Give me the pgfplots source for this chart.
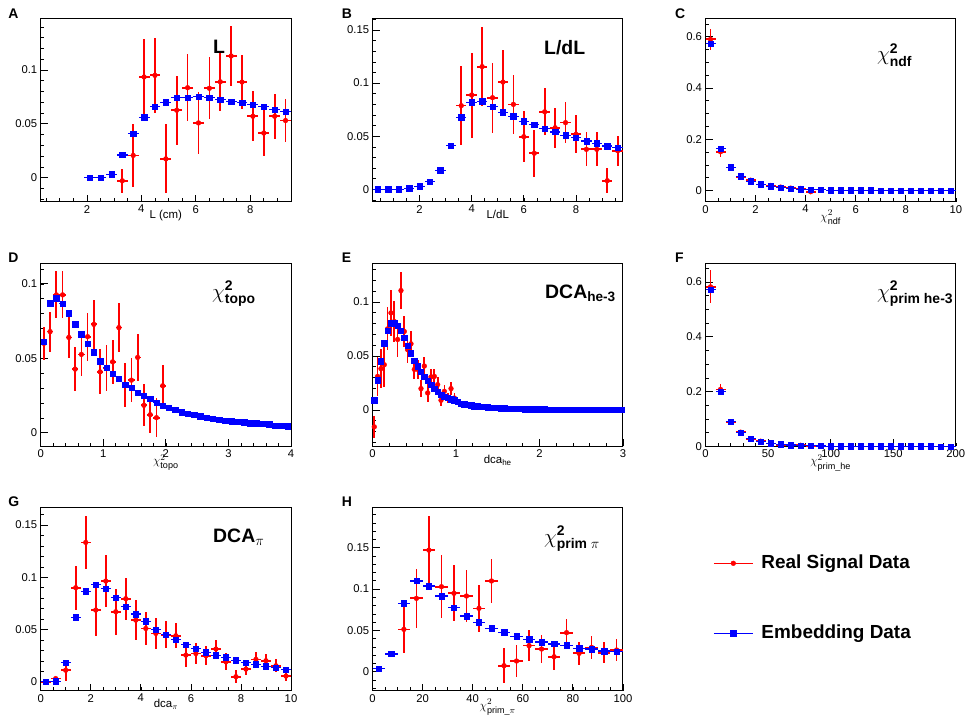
\documentclass[border=0pt]{standalone}
\usepackage{amsmath}
\usepackage{fontspec}
\setmainfont{Liberation Sans}
\usepackage{pgfplots}
\pgfplotsset{compat=1.18}

\pgfplotsset{
  rootaxis/.style={
    scale only axis, width=250.3bp, height=183.4bp,
    axis line style={line width=0.9bp},
    tick pos=left, tick align=inside,
    major tick length=7bp, minor tick length=3.5bp,
    major tick style={line width=0.7bp, black},
    minor tick style={line width=0.6bp, black},
    tick label style={font=\fontsize{11.3}{13}\selectfont, /pgf/number format/assume math mode=true},
    yticklabel style={/pgf/number format/fixed, /pgf/number format/precision=3},
    xticklabel style={/pgf/number format/fixed},
    scaled y ticks=false, scaled x ticks=false,
    xlabel style={font=\fontsize{11.5}{13}\selectfont, at={(axis description cs:0.5,0)}, anchor=base, yshift=-17bp, inner sep=0pt},
    clip=false,
  },
  chilabel/.style={xlabel style={font=\fontsize{13}{15}\selectfont, yshift=-1.5bp}},
  realdata/.style={only marks, mark=*, mark size=2.4bp, color=red, line width=1.6bp, mark options={line width=0.4bp},
    error bars/.cd, x dir=both, x fixed=#1, y dir=both, y explicit, error mark=none,
    error bar style={line width=1.7bp, red}},
  embdata/.style={only marks, mark=square*, mark size=2.7bp, color=blue, line width=1.5bp, mark options={line width=0.4bp},
    error bars/.cd, x dir=both, x fixed=#1, error mark=none,
    error bar style={line width=1.1bp, blue}},
}

\begin{document}
\begin{tikzpicture}
\useasboundingbox (0,0) rectangle (965bp,-718bp);

% ---------------- A ----------------
\begin{axis}[rootaxis, at={(40.7bp,-201.7bp)}, anchor=south west,
  xmin=0.3, xmax=9.5, ymin=-0.0224, ymax=0.148,
  xtick={2,4,6,8}, minor xtick={0.5,1,...,9.5},
  ytick={0,0.05,0.1}, minor ytick={-0.02,-0.01,...,0.145},
  xlabel={L (cm)}]
\addplot[realdata=0.2] table[x=x, y=y, y error=ey] {
x y ey
3.3 -0.003 0.011
3.7 0.0206 0.029
4.1 0.0935 0.035
4.5 0.095 0.035
4.9 0.0174 0.032
5.3 0.0626 0.032
5.7 0.0835 0.031
6.1 0.0508 0.029
6.5 0.083 0.029
6.9 0.089 0.027
7.3 0.113 0.028
7.7 0.0888 0.025
8.1 0.057 0.023
8.5 0.0414 0.021
8.9 0.057 0.021
9.3 0.053 0.020
};
\addplot[embdata=0.2] table[x=x, y=y] {
x y
2.1 0
2.5 0
2.9 0.003
3.3 0.021
3.7 0.041
4.1 0.056
4.5 0.066
4.9 0.070
5.3 0.074
5.7 0.074
6.1 0.075
6.5 0.074
6.9 0.0726
7.3 0.0707
7.7 0.0695
8.1 0.0676
8.5 0.0657
8.9 0.0632
9.3 0.061
};
\end{axis}

% ---------------- B ----------------
\begin{axis}[rootaxis, at={(372.6bp,-201.7bp)}, anchor=south west,
  xmin=0.2, xmax=9.8, ymin=-0.0116, ymax=0.161,
  xtick={2,4,6,8}, minor xtick={0.5,1,...,9.5},
  ytick={0,0.05,0.1,0.15}, minor ytick={-0.01,0,...,0.16},
  xlabel={L/dL}]
\addplot[realdata=0.2] table[x=x, y=y, y error=ey] {
x y ey
3.6 0.0788 0.037
4.0 0.0888 0.040
4.4 0.1155 0.037
4.8 0.0863 0.033
5.2 0.101 0.030
5.6 0.080 0.028
6.0 0.0496 0.024
6.4 0.034 0.022
6.8 0.073 0.022
7.2 0.058 0.019
7.6 0.0628 0.019
8.0 0.0518 0.018
8.4 0.0377 0.016
8.8 0.0377 0.016
9.2 0.0082 0.012
9.6 0.0364 0.014
};
\addplot[embdata=0.2] table[x=x, y=y] {
x y
0.4 0
0.8 0
1.2 0
1.6 0.001
2.0 0.003
2.4 0.007
2.8 0.018
3.2 0.041
3.6 0.068
4.0 0.082
4.4 0.083
4.8 0.078
5.2 0.0725
5.6 0.069
6.0 0.064
6.4 0.061
6.8 0.057
7.2 0.054
7.6 0.051
8.0 0.0487
8.4 0.0455
8.8 0.0433
9.2 0.0408
9.6 0.0395
};
\end{axis}

% ---------------- C ----------------
\begin{axis}[rootaxis, chilabel, at={(705.5bp,-201.7bp)}, anchor=south west,
  xmin=0, xmax=10, ymin=-0.044, ymax=0.672,
  xtick={0,2,...,10}, minor xtick={0,0.5,...,10},
  ytick={0,0.2,0.4,0.6}, minor ytick={0,0.05,...,0.65},
  xlabel={$\chi^{2}_{\text{ndf}}$}]
\addplot[realdata=0.2] table[x=x, y=y, y error=ey] {
x y ey
0.2 0.59 0.042
0.6 0.151 0.020
1.0 0.090 0.013
1.4 0.053 0.010
1.8 0.040 0.008
2.2 0.023 0.006
2.6 0.0195 0.006
3.0 0.013 0.005
3.4 0.009 0.004
3.8 0.008 0.004
4.2 -0.005 0.004
};
\addplot[embdata=0.2] table[x=x, y=y] {
x y
0.2 0.574
0.6 0.164
1.0 0.090
1.4 0.056
1.8 0.0364
2.2 0.0247
2.6 0.017
3.0 0.0117
3.4 0.0078
3.8 0.005
4.2 0.004
4.6 0.003
5.0 0.001
5.4 0.0005
5.8 0.0003
6.2 0.0002
6.6 0.0002
7.0 0.0001
7.4 0.0001
7.8 0.0001
8.2 0
8.6 0
9.0 0
9.4 0
9.8 0
};
\end{axis}

% ---------------- D ----------------
\begin{axis}[rootaxis, chilabel, at={(40.7bp,-446.4bp)}, anchor=south west,
  xmin=0, xmax=4, ymin=-0.0092, ymax=0.114,
  xtick={0,1,2,3,4}, minor xtick={0,0.2,...,4},
  ytick={0,0.05,0.1}, minor ytick={0,0.01,...,0.11},
  xlabel={$\chi^{2}_{\text{topo}}$}]
\addplot[realdata=0.05] table[x=x, y=y, y error=ey] {
x y ey
0.05 0.060 0.011
0.15 0.0679 0.0135
0.25 0.0926 0.0157
0.35 0.0926 0.0157
0.45 0.064 0.014
0.55 0.0427 0.0146
0.65 0.0526 0.0148
0.75 0.0645 0.016
0.85 0.0728 0.0164
0.95 0.0409 0.015
1.05 0.0436 0.0154
1.15 0.0476 0.015
1.25 0.0706 0.0166
1.35 0.032 0.015
1.45 0.0353 0.015
1.55 0.0506 0.0157
1.65 0.0184 0.014
1.75 0.0121 0.0126
1.85 0.0101 0.013
1.95 0.0315 0.014
};
\addplot[embdata=0.05] table[x=x, y=y] {
x y
0.05 0.0611
0.15 0.087
0.25 0.0903
0.35 0.0865
0.45 0.0802
0.55 0.0730
0.65 0.0663
0.75 0.0596
0.85 0.0542
0.95 0.0480
1.05 0.0438
1.15 0.0398
1.25 0.0364
1.35 0.0324
1.45 0.0303
1.55 0.0270
1.65 0.0247
1.75 0.0229
1.85 0.0202
1.95 0.0182
2.05 0.0169
2.15 0.0155
2.25 0.0139
2.35 0.0128
2.45 0.0121
2.55 0.0110
2.65 0.0101
2.75 0.0094
2.85 0.0088
2.95 0.0081
3.05 0.0076
3.15 0.0074
3.25 0.0070
3.35 0.0065
3.45 0.0063
3.55 0.0061
3.65 0.0056
3.75 0.0049
3.85 0.0049
3.95 0.0043
};
\end{axis}

% ---------------- E ----------------
\begin{axis}[rootaxis, at={(372.6bp,-446.4bp)}, anchor=south west,
  xmin=0, xmax=3, ymin=-0.0338, ymax=0.136,
  xtick={0,1,2,3}, minor xtick={0,0.2,...,3},
  ytick={0,0.05,0.1}, minor ytick={-0.03,-0.02,...,0.135},
  xlabel={dca$_{\text{he}}$}]
\addplot[realdata=0.02] table[x=x, y=y, y error=ey] {
x y ey
0.02 -0.0157 0.010
0.06 0.031 0.018
0.10 0.0382 0.018
0.14 0.0418 0.021
0.18 0.075 0.020
0.22 0.0898 0.021
0.26 0.0818 0.019
0.30 0.0652 0.016
0.34 0.1105 0.017
0.38 0.0726 0.0145
0.42 0.0557 0.012
0.46 0.0612 0.012
0.50 0.0375 0.009
0.54 0.0375 0.009
0.58 0.0197 0.008
0.62 0.0406 0.0085
0.66 0.0157 0.0085
0.70 0.0305 0.007
0.74 0.0310 0.007
0.78 0.0234 0.007
0.82 0.0089 0.0055
0.86 0.0172 0.0055
0.90 0.0111 0.005
0.94 0.0197 0.006
0.98 0.0110 0.0045
};
\addplot[embdata=0.02] table[x=x, y=y] {
x y
0.02 0.0089
0.06 0.0274
0.10 0.0452
0.14 0.0618
0.18 0.0735
0.22 0.0803
0.26 0.0803
0.30 0.0782
0.34 0.0735
0.38 0.0668
0.42 0.0597
0.46 0.0526
0.50 0.0458
0.54 0.0403
0.58 0.0351
0.62 0.0305
0.66 0.0268
0.70 0.0234
0.74 0.0197
0.78 0.0166
0.82 0.0142
0.86 0.0120
0.90 0.0112
0.94 0.0098
0.98 0.0089
1.02 0.0074
1.06 0.0058
1.10 0.0052
1.14 0.0049
1.18 0.0043
1.22 0.0034
1.26 0.0034
1.30 0.0030
1.34 0.0027
1.38 0.0024
1.42 0.0022
1.46 0.0020
1.50 0.0018
1.54 0.0016
1.58 0.0014
1.62 0.0012
1.66 0.0011
1.70 0.0010
1.74 0.0009
1.78 0.0009
1.82 0.0008
1.86 0.0008
1.90 0.0007
1.94 0.0007
1.98 0.0006
2.02 0.0006
2.06 0.0005
2.10 0.0004
2.14 0.0004
2.18 0.0004
2.22 0.0003
2.26 0.0003
2.30 0.0003
2.34 0.0003
2.38 0.0002
2.42 0.0002
2.46 0.0002
2.50 0.0002
2.54 0.0002
2.58 0.0002
2.62 0.0001
2.66 0.0001
2.70 0.0001
2.74 0.0001
2.78 0.0001
2.82 0.0001
2.86 0.0001
2.90 0.0001
2.94 0.0001
2.98 0.0001
};
\end{axis}

% ---------------- F ----------------
\begin{axis}[rootaxis, chilabel, at={(705.5bp,-446.4bp)}, anchor=south west,
  xmin=0, xmax=200, ymin=0, ymax=0.669,
  xtick={0,50,...,200}, minor xtick={0,10,...,200},
  ytick={0,0.2,0.4,0.6}, minor ytick={0,0.05,...,0.65},
  xlabel={$\chi^{2}_{\text{prim\_he}}$}]
\addplot[realdata=4] table[x=x, y=y, y error=ey] {
x y ey
4 0.582 0.060
12 0.208 0.020
20 0.090 0.007
28 0.052 0.005
36 0.028 0.004
44 0.019 0.003
52 0.011 0.003
60 0.006 0.002
68 0.006 0.002
76 0.004 0.002
84 0.002 0.001
92 0.003 0.001
};
\addplot[embdata=4] table[x=x, y=y] {
x y
4 0.572
12 0.200
20 0.091
28 0.050
36 0.028
44 0.017
52 0.012
60 0.0085
68 0.005
76 0.0036
84 0.0024
92 0.0015
100 0.0010
108 0.0008
116 0.0005
124 0.0004
132 0.0003
140 0.0003
148 0.0002
156 0.0002
164 0.0001
172 0.0001
180 0.0001
188 0
196 0
};
\end{axis}

% ---------------- G ----------------
\begin{axis}[rootaxis, at={(40.7bp,-690.7bp)}, anchor=south west,
  xmin=0, xmax=10, ymin=-0.0086, ymax=0.167,
  xtick={0,2,...,10}, minor xtick={0,0.5,...,10},
  ytick={0,0.05,0.1,0.15}, minor ytick={0,0.01,...,0.165},
  xlabel={dca$_{\pi}$}]
\addplot[realdata=0.2] table[x=x, y=y, y error=ey] {
x y ey
0.2 0 0.001
0.6 0.003 0.002
1.0 0.011 0.010
1.4 0.090 0.021
1.8 0.1334 0.025
2.2 0.0686 0.025
2.6 0.0964 0.025
3.0 0.067 0.022
3.4 0.0795 0.020
3.8 0.059 0.019
4.2 0.051 0.016
4.6 0.0463 0.015
5.0 0.045 0.013
5.4 0.044 0.012
5.8 0.0255 0.011
6.2 0.027 0.010
6.6 0.0249 0.009
7.0 0.0313 0.009
7.4 0.0191 0.008
7.8 0.0048 0.006
8.2 0.0121 0.006
8.6 0.0214 0.007
9.0 0.0201 0.006
9.4 0.0153 0.006
9.8 0.0054 0.005
};
\addplot[embdata=0.2] table[x=x, y=y] {
x y
0.2 0
0.6 0.0006
1.0 0.018
1.4 0.0616
1.8 0.0865
2.2 0.093
2.6 0.0893
3.0 0.0807
3.4 0.0721
3.8 0.0648
4.2 0.058
4.6 0.050
5.0 0.0453
5.4 0.0405
5.8 0.0357
6.2 0.0319
6.6 0.0284
7.0 0.0255
7.4 0.0233
7.8 0.0207
8.2 0.0185
8.6 0.0166
9.0 0.015
9.4 0.0134
9.8 0.0118
};
\end{axis}

% ---------------- H ----------------
\begin{axis}[rootaxis, chilabel, at={(372.6bp,-690.7bp)}, anchor=south west,
  xmin=0, xmax=100, ymin=-0.023, ymax=0.1988,
  xtick={0,20,...,100}, minor xtick={0,5,...,100},
  ytick={0,0.05,0.1,0.15}, minor ytick={-0.02,-0.01,...,0.195},
  xlabel={$\chi^{2}_{\text{prim\_}\pi}$},
  legend style={at={(1.3603,0.7437)}, anchor=north west, draw=none, fill=none,
    inner sep=0pt, outer sep=0pt,
    font=\fontsize{19}{22}\bfseries\selectfont, row sep=52bp, column sep=8bp,
    nodes={inner sep=0pt, text height=14bp, text depth=4bp}},
  legend cell align=left,
  legend image code/.code={\draw[mark repeat=2,mark phase=2,#1,line width=1.4bp,sharp plot] plot coordinates {(0bp,0bp) (19.5bp,0bp) (39bp,0bp)};}]
\addplot[realdata=2.5] table[x=x, y=y, y error=ey] {
x y ey
12.5 0.0512 0.028
17.5 0.0887 0.036
22.5 0.147 0.041
27.5 0.1028 0.038
32.5 0.0948 0.034
37.5 0.0915 0.031
42.5 0.0766 0.028
47.5 0.1097 0.027
52.5 0.0073 0.021
57.5 0.0129 0.019
62.5 0.0315 0.019
67.5 0.0274 0.017
72.5 0.0181 0.016
77.5 0.0472 0.016
82.5 0.0222 0.014
87.5 0.0294 0.014
92.5 0.0230 0.013
97.5 0.0262 0.013
};
\addlegendentry{Real Signal Data}
\addplot[embdata=2.5] table[x=x, y=y] {
x y
2.5 0.0036
7.5 0.0214
12.5 0.0827
17.5 0.1097
22.5 0.1036
27.5 0.0915
32.5 0.0774
37.5 0.0673
42.5 0.0597
47.5 0.0524
52.5 0.0476
57.5 0.0431
62.5 0.0391
67.5 0.0359
72.5 0.0335
77.5 0.0319
82.5 0.0282
87.5 0.0274
92.5 0.0250
97.5 0.0242
};
\addlegendentry{Embedding Data}
\end{axis}

% ---------------- panel letters and titles ----------------
\begin{scope}[every node/.style={inner sep=0pt, anchor=base west}]
\node[font=\fontsize{14}{16}\bfseries\selectfont] at (8.3bp,-18.3bp) {A};
\node[font=\fontsize{14}{16}\bfseries\selectfont] at (341.7bp,-18.3bp) {B};
\node[font=\fontsize{14}{16}\bfseries\selectfont] at (675bp,-18.3bp) {C};
\node[font=\fontsize{14}{16}\bfseries\selectfont] at (8.3bp,-262.7bp) {D};
\node[font=\fontsize{14}{16}\bfseries\selectfont] at (341.7bp,-262.5bp) {E};
\node[font=\fontsize{14}{16}\bfseries\selectfont] at (675bp,-262.5bp) {F};
\node[font=\fontsize{14}{16}\bfseries\selectfont] at (8.3bp,-506.7bp) {G};
\node[font=\fontsize{14}{16}\bfseries\selectfont] at (341.7bp,-506.7bp) {H};

\node[font=\fontsize{19.5}{22}\bfseries\selectfont] at (213bp,-53.3bp) {L};
\node[font=\fontsize{19.5}{22}\bfseries\selectfont] at (544bp,-54.5bp) {L/dL};
\node[font=\fontsize{20}{22}\bfseries\selectfont] at (877bp,-60.5bp) {$\chi^{\textbf{2}}_{\textbf{ndf}}$};
\node[font=\fontsize{20}{22}\bfseries\selectfont] at (212bp,-298bp) {$\chi^{\textbf{2}}_{\textbf{topo}}$};
\node[font=\fontsize{19.5}{22}\bfseries\selectfont] at (545bp,-298.3bp) {DCA$_{\textbf{he-3}}$};
\node[font=\fontsize{20}{22}\bfseries\selectfont] at (877bp,-298bp) {$\chi^{\textbf{2}}_{\textbf{prim he-3}}$};
\node[font=\fontsize{19.5}{22}\bfseries\selectfont] at (213bp,-542.7bp) {DCA$_{\pi}$};
\node[font=\fontsize{20}{22}\bfseries\selectfont] at (544bp,-543bp) {$\chi^{\textbf{2}}_{\textbf{prim }\pi}$};
\end{scope}
\end{tikzpicture}
\end{document}
